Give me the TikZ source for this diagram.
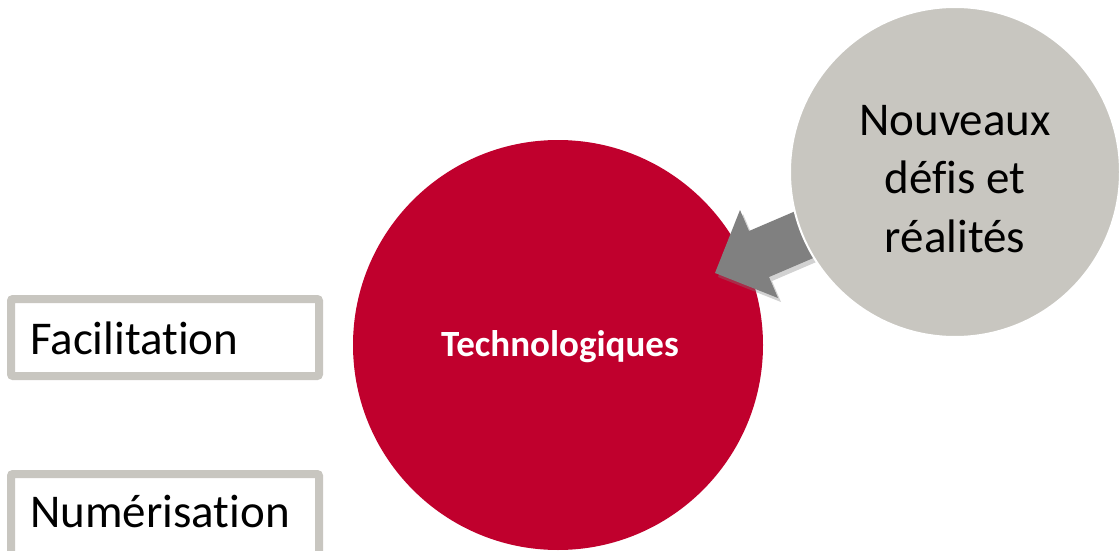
\documentclass[tikz,border=0pt]{standalone}
\usepackage{fontspec}
\setmainfont{Carlito}[Ligatures={NoCommon}]
\usetikzlibrary{shadows}
\definecolor{techred}{RGB}{192,0,45}
\definecolor{softgray}{RGB}{200,198,192}
\definecolor{arrowgray}{RGB}{128,128,128}
\tikzset{
  bigtext/.style={font=\fontsize{47}{58.5}\selectfont, text=black, inner sep=0pt},
  labelbox/.style={draw=softgray, line width=8pt, rounded corners=2pt, fill=white},
  blockarrow/.style={fill=arrowgray, draw=none,
    drop shadow={opacity=0.35, shadow xshift=3pt, shadow yshift=-4pt}},
}
\begin{document}
\begin{tikzpicture}[x=1pt,y=-1pt]
\useasboundingbox (0,0) rectangle (1120,551);
\clip (0,0) rectangle (1120,551);
\fill[white] (0,0) rectangle (1120,551);
% red circle
\node[circle, fill=techred, minimum size=410pt, inner sep=0pt] (tech) at (558,345) {};
\node[anchor=base, font=\fontsize{37}{44}\selectfont\bfseries, text=white, inner sep=0pt] (techlabel) at (560,356) {Technologiques};
% block arrow
\coordinate (tip) at (715,273);
\coordinate (barbA) at (740,210);
\coordinate (barbB) at (778,298);
\coordinate (shA) at (749,231);
\coordinate (shB) at (769,277);
\coordinate (backA) at (833,195);
\coordinate (backB) at (853,241);
\path[blockarrow] (tip) -- (barbA) -- (shA) -- (backA) -- (backB) -- (shB) -- (barbB) -- cycle;
% gray circle
\node[circle, fill=softgray, draw=white, line width=2pt, minimum size=330pt, inner sep=0pt] (defis) at (955,172) {};
\node[bigtext, align=center] (defislabel) at (955,179) {Nouveaux\\défis et\\réalités};
% boxes
\draw[labelbox] (11,299) rectangle (319,376);
\node[bigtext, anchor=base west] (facil) at (30,354) {Facilitation};
\draw[labelbox] (11,474) rectangle (319,620);
\node[bigtext, anchor=base west] (numer) at (30,527) {Numérisation};
\end{tikzpicture}
\end{document}
